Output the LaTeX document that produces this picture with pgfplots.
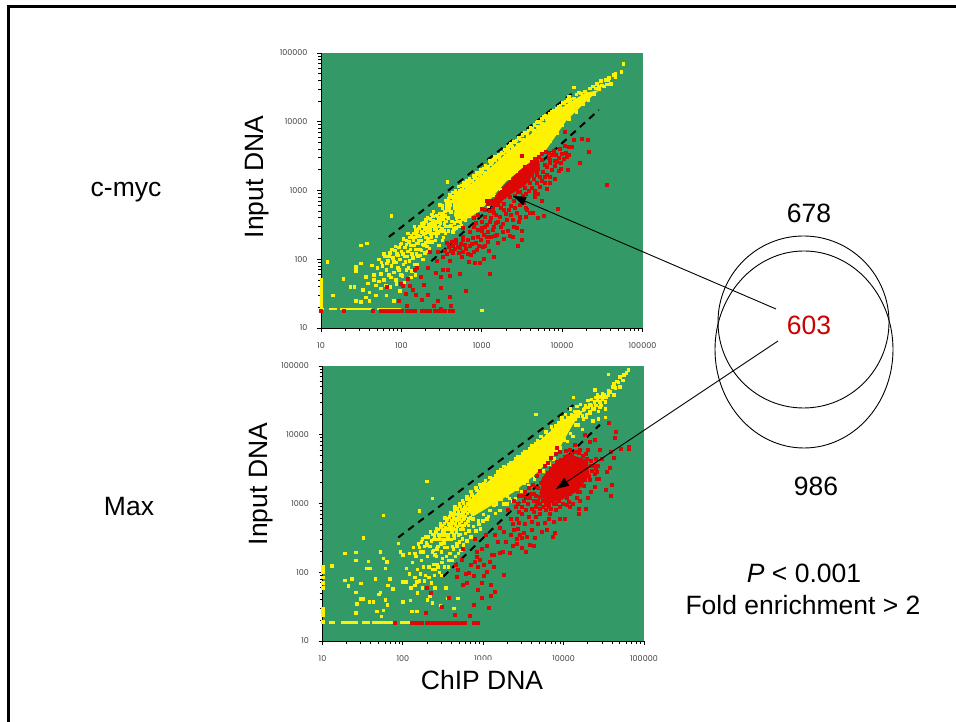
\documentclass[border=0pt]{standalone}
\usepackage{pgfplots}
\pgfplotsset{compat=1.18}
\usepackage{fontspec}
\setmainfont{Liberation Sans}
\newfontfamily\tickfont{Poppins}
\usetikzlibrary{arrows.meta}
\definecolor{bggreen}{RGB}{51,153,102}
\definecolor{ptyellow}{RGB}{255,242,0}
\definecolor{ptred}{RGB}{221,8,6}
\definecolor{txtred}{RGB}{204,0,0}
\newcommand{\bigtxt}{\fontsize{26.5}{30}\selectfont}
\pgfplotsset{
  myyel/.style={only marks, mark=square*, mark size=1.25pt, color=ptyellow, mark options={draw=none,fill=ptyellow}},
  myred/.style={only marks, mark=square*, mark size=1.5pt, color=ptred, mark options={draw=none,fill=ptred}},
  mydash/.style={black, line width=2pt, dash pattern=on 7pt off 5.5pt, no marks},
  myrow/.style={ptyellow, line width=2.5pt, no marks},
}
\begin{document}
\begin{tikzpicture}[x=1pt,y=1pt]
\path[use as bounding box,fill=white] (0,0) rectangle (956,722);
\draw[black,line width=2.6pt] (8.3,0) -- (8.3,715.4) -- (956,715.4);

% ---------- c-myc ----------
\begin{axis}[
    scale only axis, width=321.5pt, height=275pt,
    xmode=log, ymode=log, xmin=10, xmax=100000, ymin=10, ymax=100000,
    axis x line*=bottom, axis y line*=left,
    axis line style={black,line width=0.9pt,-},
    axis background/.style={fill=bggreen},
    xtick={10,100,1000,10000,100000}, ytick={10,100,1000,10000,100000},
    xticklabels={10,100,1000,10000,100000}, yticklabels={10,100,1000,10000,100000},
    minor tick num=0,
    tick align=outside, major tick length=4pt,
    tick style={black,line width=0.8pt},
    ticklabel style={font=\tickfont\fontsize{8}{9}\selectfont, text=black!75},
    xticklabel style={yshift=-7pt}, yticklabel style={xshift=-6pt},
    anchor=north west, at={(321pt,669pt)}]
\addplot[mydash] coordinates {(70,211) (14500,28000)};
\addplot[mydash] coordinates {(236,94) (28600,14800)};
% dense yellow core
\addplot[draw=none, fill=ptyellow] coordinates {(450,420) (480,845) (990,1620) (2030,3500) (4350,7000) (10300,16500) (19000,26000) (29000,29000) (20100,20000) (11200,10300) (6380,3960) (2030,1370) (945,500) (640,380)} -- cycle;
\addplot[myyel] coordinates {
(10,20)(10,22)(10,24)(10,27)(10,30)(10,33)(10,37)(10,40)(10,45)(10,50)
(12,92)(14,30)(19,52)(23,40)(26,40)(27,25)(27,68)(27,78)(31,24)(31,88)(31,160)(37,170)(33,36)(36,28)(36,56)(38,45)(40,25)(40,33)(43,82)(45,50)(45,60)(48,30)(48,42)(50,75)(52,100)(55,62)(55,38)(58,80)(60,50)(62,110)(65,30)(65,70)(68,95)(70,60)(72,125)(72,40)(75,80)(75,430)(78,105)(80,25)(80,65)(82,135)(85,50)(85,90)(88,120)(90,75)(92,150)(95,35)(95,100)(98,60)
(100,130)(100,170)(105,85)(110,110)(110,150)(115,190)(115,70)(120,130)(125,95)(125,210)(130,160)(130,55)(135,120)(140,240)(140,190)(145,85)(150,140)(150,270)(155,170)(160,110)(160,220)(170,300)(170,140)(175,190)(180,250)(185,100)(190,340)(190,160)(200,210)(200,290)(210,130)(210,400)(220,250)(220,180)(230,330)(240,450)
(120,240)(135,210)(145,300)(155,260)(165,190)(185,310)(195,240)(205,360)(215,300)(235,210)(245,370)(255,280)(265,350)(275,250)
(250,500)(260,310)(270,220)(280,420)(290,160)(300,620)(300,380)(310,260)(320,550)(320,190)(330,470)(340,330)(350,720)(350,240)(360,560)(370,1340)(370,410)(380,760)(390,300)(400,870)(400,620)(410,490)(420,360)(430,950)(440,700)(450,280)(460,560)(470,1000)(480,400)(490,830)(500,480)(510,1150)(520,660)(540,350)(560,1200)(580,500)(600,1300)(620,430)(650,1400)(680,520)(700,1500)(740,560)(780,1650)(820,620)(860,1800)(900,680)(950,2000)(1000,750)(1050,2100)(1100,2300)(1150,2150)(1250,2700)(1350,2600)(1450,3100)(1600,3300)(1750,3600)(1900,4000)(2100,4300)(2300,4800)(2600,5000)(2900,5900)(3200,6500)(3600,7000)(4000,8200)(4500,9000)(5000,10200)(5600,11000)(6200,12500)(7000,13000)(7800,14500)(8600,15500)(9500,17000)(10000,19000)(11000,20000)(12000,23000)(13900,32000)(16000,27000)(14000,22000)(13000,17000)(16000,20000)(18000,24000)(19000,28000)
(7000,5200)(8500,6800)(10000,9000)(12000,11000)(15000,14000)(18000,18000)(21000,21000)(25000,25000)
(57400,70000)(54000,53500)(46000,50000)(46000,45000)(40000,36000)(36000,35000)(37000,40000)(30000,39500)(28000,33000)(33000,33000)(1000,18)
(320,600)(345,500)(360,640)(375,690)(395,560)(415,700)(425,810)(445,790)(455,640)(465,900)(475,720)(495,950)(515,860)(530,1000)(545,780)(565,1050)(575,900)(590,1150)(610,1000)(630,1230)(640,1100)(665,1250)(690,1350)(715,1200)(735,1420)(760,1380)(800,1500)(830,1600)(870,1500)(910,1750)(940,1700)(985,1850)(1020,1950)(1080,1800)(1120,2150)(1180,2250)(1220,2000)(1280,2500)(1320,2400)(1400,2850)(1480,2800)(1550,3100)(1650,3000)(1700,3400)(1820,3500)(1950,3700)(2050,3900)(2200,4500)(2400,4400)(2500,5100)(2700,5400)(3000,5600)(3400,6900)(3800,7500)(4200,7900)(4800,9800)(5300,10000)(5900,11800)(6600,12000)(7400,14000)(8200,14200)(9000,16500)(10500,18500)(11500,21000)(12500,21000)(15000,25000)(17000,26000)(20000,26000)(22000,31000)(24000,33000)(26000,31000)
(2100,3800)(2400,4100)(2800,4700)(3300,5500)(3700,6300)(4400,7400)(5000,8400)(5600,9400)(6300,10800)(7000,11500)(7900,12800)(8800,14500)(9800,15800)(11200,17500)(12500,19000)(27000,36000)(29000,30000)(31000,34000)(35000,41000)(38000,44000)(43000,48000)
(330,210)(355,300)(385,260)(410,310)(435,250)(455,340)(475,290)(500,360)(510,300)(530,410)(555,310)(575,390)(600,440)(625,370)(660,460)(690,430)(720,500)(770,520)(840,540)(900,560)(1200,600)(1400,850)(1700,1050)(2200,1500)(2700,1900)(3200,2400)(3800,2800)(4300,3200)(5000,3500)(5700,3800)
(52,48)(56,90)(60,120)(64,42)(66,88)(70,110)(74,55)(76,140)(80,92)(84,155)(86,44)(90,115)(93,70)(96,165)(102,58)(104,120)(106,200)(108,46)(112,92)(114,165)(118,110)(122,75)(124,180)(128,140)(132,225)(134,68)(138,105)(142,160)(146,210)(148,60)(152,120)(154,235)(158,85)(162,175)(164,285)(168,115)(172,215)(176,135)(178,330)(182,165)(186,230)(192,280)(194,125)(198,175)(202,375)(206,155)(208,250)(212,200)(216,320)(222,145)(226,270)(228,390)(232,235)(238,300)(242,180)(246,420)(252,240)(258,340)(262,190)(268,290)(272,440)(278,350)(284,240)(288,400)(294,300)(298,470)(305,340)(312,420)(318,280)(325,390)(335,260)(345,430)(355,360)(365,300)(375,520)(385,400)
};
\addplot[myrow] coordinates {(10,18.8)(11,18.8)};
\addplot[myrow] coordinates {(12.5,18.8)(16,18.8)};
\addplot[myrow] coordinates {(17,18.8)(43,18.8)};
\addplot[myrow] coordinates {(50,18.8)(100,18.8)};
% dense red core
\addplot[draw=none, fill=ptred] coordinates {(1250,620)(1700,1050)(3000,2000)(5000,3100)(5300,2300)(3500,1200)(2200,850)(1500,600)} -- cycle;
\addplot[myred] coordinates {
(35600,1210)(21700,3610)(21000,5530)(17500,5600)(14000,5500)(13000,4270)(16500,2530)(11800,2020)(8900,540)(10900,7080)(9000,3000)(8000,2700)(7000,2500)(12000,4300)(11000,3500)(9500,2100)(9000,1950)(8000,1500)(7000,1300)(6000,1600)(6500,1050)(5000,900)(5500,700)(4500,820)(5970,430)(5000,400)(3500,560)(4000,480)(3000,620)(3000,400)
(3100,3250)(65,40)(98,44)(105,41)(121,52)(127,41)(146,70)(156,76)(140,36)(150,31)(113,32)(93,25)(117,21)(177,26)(190,43)(175,55)(210,31)(210,75)(250,21)(285,25)(305,38)(400,29)(410,21)(310,19)(270,63)(310,55)(330,70)(380,70)(400,94)(400,58)(275,94)(226,130)(285,130)(365,173)(530,62)(695,93)(820,90)(930,88)(630,35)(1240,62)(1070,102)(1410,108)(1210,131)(860,138)(585,130)(530,146)(435,124)(420,183)(480,194)(585,216)(675,194)(775,205)(1000,257)(1060,228)(1200,255)(1200,182)(1600,173)(1370,270)(1840,255)(2100,263)(2720,285)(3140,193)(2770,155)(3130,263)(2450,380)(3000,420)(3600,530)(4300,470)
(585,285)(700,255)(850,340)(1000,350)(1150,315)(1500,340)(1670,420)(2030,380)(2150,530)(2700,470)(3300,660)(4600,880)
(2200,800)(2500,700)(2800,950)(3200,850)(3500,900)(3800,1000)(4200,1100)(4500,1000)(4800,1300)(5200,1150)(5500,1400)(6000,1300)(6500,1700)(7000,1600)(7500,2000)(8000,2300)(8500,2600)(9500,2500)(10500,2900)(12000,3300)(5500,2800)(6000,2400)(5000,2100)(4200,1700)(3700,1400)(4800,1700)(6800,3000)(7500,3300)
(800,400)(900,450)(1100,420)(1300,400)(1500,450)(1700,560)(1900,640)(1250,500)(1100,300)(1400,300)(1800,330)(2300,450)(2600,560)
(1100,520)(1180,640)(1300,700)(1350,550)(1450,620)(1550,800)(1650,700)(1750,950)(1850,800)(1950,1050)(2100,950)(2250,1200)(2400,1050)(2550,1400)(2650,1150)(2850,1600)(3000,1250)(3150,1800)(3300,1350)(3450,2200)(3600,1500)(3800,2300)(4000,1300)(4200,2600)(4400,1500)(4600,2900)(4800,1900)(5100,3100)(5300,1600)(5600,3400)(5800,1900)(6200,3700)(6400,2200)(6800,3600)(7100,2800)(7800,3800)(8300,3300)(9200,4100)(10000,3400)(10800,4500)(11500,3100)
(1000,550)(1150,720)(1400,470)(1600,620)(1900,520)(2300,610)(2600,850)(3000,950)(3400,1100)
(330,110)(350,135)(370,120)(390,150)(410,135)(440,160)(455,140)(470,175)(500,150)(520,125)(545,170)(560,110)(580,190)(610,165)(640,140)(670,120)(700,160)(730,115)(760,170)(790,130)(830,175)(880,210)(920,160)(980,190)(1020,150)(1100,160)(1150,210)(1300,215)(1450,220)(1550,230)(1700,300)(1900,200)(2200,220)(2400,210)(2500,300)(2900,350)(3500,420)(1000,290)(900,270)(800,300)(1250,350)(1600,350)(2000,460)
(10,18)(19,18)(44,18)(55,18)(60,18)(65,18)(70,18)(75,18)(80,18)(85,18)(90,18)(95,18)(100,18)(115,18)(120,18)(130,18)(140,18)(145,18)(180,18)(190,18)(200,18)(225,18)(260,18)(280,18)(300,18)(320,18)(345,18)(400,18)(430,18)
};
\end{axis}

% ---------- Max ----------
\begin{axis}[
    scale only axis, width=321.5pt, height=275pt,
    xmode=log, ymode=log, xmin=10, xmax=100000, ymin=10, ymax=100000,
    axis x line*=bottom, axis y line*=left,
    axis line style={black,line width=0.9pt,-},
    axis background/.style={fill=bggreen},
    xtick={10,100,1000,10000,100000}, ytick={10,100,1000,10000,100000},
    xticklabels={10,100,1000,10000,100000}, yticklabels={10,100,1000,10000,100000},
    minor tick num=0,
    tick align=outside, major tick length=4pt,
    tick style={black,line width=0.8pt},
    ticklabel style={font=\tickfont\fontsize{8}{9}\selectfont, text=black!75},
    xticklabel style={yshift=-7pt}, yticklabel style={xshift=-6pt},
    anchor=north west, at={(322.5pt,356pt)}]
\addplot[mydash] coordinates {(87.5,320) (13800,28000)};
\addplot[mydash] coordinates {(318,86.5) (28300,14000)};
\addplot[draw=none, fill=ptyellow] coordinates {(620,800)(700,1150)(1100,2000)(2360,4200)(5070,8200)(9000,14800)(15000,22000)(17000,22000)(13000,14000)(8180,5400)(4190,2500)(2360,1450)(1100,850)(750,650)} -- cycle;
\addplot[myyel] coordinates {
(10,19)(10,24)(10,27)(10,30)(10,60)(10,70)(10,85)(10,100)(10,110)(10,120)
(13,125)(19,190)(26,195)(26,150)(32,320)(57,680)(160,780)(197,2100)(232,1190)(4500,20000)
(19,77)(21,64)(23,80)(26,51)(30,69)(30,41)(26.5,35)(26,26)(32,41)(38,37)(43,37)(35.5,115)(37,144)(39,115)(45,81)(52,200)(57,160)(63,142)(52,51)(50,48)(69,81)(65,65)(60,115)(47,27)(54,23)(57,28)(60,40)(64,34)(75,58)(87,265)(92,200)(110,115)(100,180)(100,37)(123,39)(100,73)(148,73)(128,27)(148,27)
(110,73)(120,95)(125,60)(130,140)(140,85)(140,190)(150,50)(150,110)(160,230)(160,75)(170,150)(170,280)(175,60)(180,120)(180,200)(190,330)(190,90)(200,170)(200,250)(210,120)(215,45)(220,390)(225,70)(230,200)(240,300)(240,130)(250,60)(260,440)(260,170)(270,240)(280,350)(290,510)(300,200)(310,420)(320,270)(330,620)(340,350)(350,230)(370,500)(390,750)(400,300)(420,600)(440,900)(460,380)(480,700)(500,1000)(520,480)(550,1100)(580,620)(620,1250)(650,480)(700,1500)(740,600)(800,1700)(860,560)(900,1900)(1000,700)(1050,2200)(1150,650)(1200,2400)(1350,950)(1500,2900)(1600,800)(1800,3500)(2000,1000)(2200,4000)(2500,1200)(2700,4900)(3000,1500)(3300,5800)(3600,1800)(4000,7000)(4300,2300)(4700,8200)(5200,9500)(5500,3000)(6000,11000)(6500,3800)(7000,13000)(7500,4500)(8500,15000)(9000,6500)(9500,18000)(10500,20000)(11000,8000)(12000,24000)(13000,9500)(14500,26000)(14000,14000)(16000,28000)(17000,12000)(19000,20000)(21000,28000)(23000,16000)(25000,35000)(27000,22000)(30000,40000)(33000,30000)(38000,42000)(42000,55000)(42000,38000)(46000,60000)(50000,50000)(50000,70000)(54000,62000)(56000,75000)(60000,80000)(64000,88000)(36000,76000)(13200,35000)(24500,45000)(33000,24000)(33000,18000)(27000,17000)
(250,180)(270,120)(290,300)(310,160)(330,230)(360,310)(370,150)(380,420)(410,240)(430,350)(450,480)(470,260)(490,590)(510,360)(540,700)(560,420)(600,900)(640,550)(680,1100)(760,800)(850,1300)(950,1000)(1100,1500)(1300,1100)(1500,1300)(1700,1500)(2000,1300)
(200,40)(230,36)(250,110)(290,33)(300,90)(340,60)(360,42)(430,30)(480,42)
(120,190)(135,230)(145,170)(155,260)(165,200)(175,310)(185,240)(195,270)(205,330)(225,290)(235,360)(245,340)(255,390)(275,420)(285,340)(295,450)(305,480)(315,390)(325,520)(335,450)(345,560)(355,600)(365,440)(375,640)(385,520)(395,680)(405,560)(415,720)(425,640)(435,780)(445,600)(455,820)(465,700)(475,860)(490,760)(510,920)(530,820)(560,1020)(590,880)(610,1150)(640,1000)(670,1200)(720,1350)(760,1250)(830,1550)(880,1450)(930,1750)(980,1600)(1020,1950)(1100,1800)(1250,2250)(1300,2000)(1400,2600)(1550,2600)(1650,3100)(1900,3200)(2050,3700)(2350,3700)(2500,4500)(2900,4700)(3100,5300)(3500,5300)(3800,6300)(4300,6500)(4500,7500)(5000,7900)(5600,8800)(6300,10200)(6800,10500)(7300,11800)(8000,13500)(8800,14000)(9300,16000)(11000,18000)(12500,19500)(13500,22000)(15000,22000)(17500,23000)(18500,27000)(20000,32000)(22000,33000)(24000,30000)(26000,38000)(28000,30000)(31000,36000)
(140,65)(165,95)(185,75)(210,85)(230,110)(245,90)(265,130)(285,100)(305,140)(325,120)(345,170)(365,120)(385,190)(405,150)(425,220)(445,170)(465,240)(485,190)(505,280)(525,210)(545,310)(565,250)(595,370)(625,290)(660,400)(700,330)(750,470)(800,400)(880,500)(920,430)(990,560)(1100,600)(1200,800)(1400,720)(1450,1000)(1650,1150)(1800,1000)(2100,1200)(2300,1100)(2600,1650)(3200,2000)(3500,2100)(4000,2600)(4600,3100)(5200,3600)(6000,4400)(6800,5000)(7300,5600)(8200,7000)(10000,8500)(12000,10500)(15000,14000)(17500,17000)(21000,21000)(24000,24000)(28000,25000)
(215,240)(240,210)(255,300)(265,220)(275,300)(295,260)(305,350)(315,300)(325,400)(345,300)(355,420)(365,350)(375,450)(385,300)(395,470)(405,380)(415,520)(425,430)(435,320)(445,520)(455,420)(465,580)(475,470)(485,350)(495,620)(505,520)(515,420)(525,670)(535,560)(545,430)(555,730)(565,600)(575,480)(585,780)(595,650)(605,520)(625,850)(635,720)(650,600)(665,930)(675,780)(690,620)(705,1000)(715,830)(725,700)(745,1100)(770,950)(790,1200)(820,1050)(845,780)(890,1250)(915,1100)(960,1350)(1000,1200)(1050,1000)(1150,1300)
(1350,2350)(1600,2800)(1750,3000)(2000,3400)(2250,3500)(2600,4200)(3000,4800)(3400,5000)(3900,5800)(4400,6800)(4900,7300)(5400,8200)(6100,9400)(6700,9800)(7500,11000)(8300,12500)(9000,15000)(10000,16000)(12000,18000)
(11000,14000)(12000,15000)(13000,19000)(14000,17000)(15000,19000)(16000,21000)(17000,19000)(18000,24000)(19000,18000)(20000,25000)(21000,22000)(22000,27000)(23000,24000)(25000,27000)(26000,32000)(28000,36000)(29000,27000)(30000,33000)(32000,38000)(34000,36000)(36000,44000)(36000,38000)(40000,50000)(44000,48000)(48000,58000)
};
\addplot[myrow] coordinates {(12,18.7)(14.5,18.7)};
\addplot[myrow] coordinates {(17,18.7)(28,18.7)};
\addplot[myrow] coordinates {(31,18.7)(39,18.7)};
\addplot[myrow] coordinates {(41,18.7)(75,18.7)};
\addplot[myrow] coordinates {(91,18.7)(130,18.7)};
\addplot[draw=none, fill=ptred] coordinates {(5000,1400)(5600,2500)(8200,4000)(13000,5000)(20000,4300)(21000,2600)(15000,1500)(9000,1100)(6000,1000)} -- cycle;
\addplot[myred] coordinates {
(64000,6800)(64000,6200)(52000,6200)(45000,11000)(43000,9200)(36000,14800)(42000,4600)(39000,5700)(37000,3300)(40000,1850)(39000,1300)(33000,1590)(34500,2900)(26000,2900)(24500,1750)(19000,850)(15500,850)(15500,720)(14500,1200)(11000,970)(10300,610)(9000,610)(7800,370)(7400,330)(6100,410)(5300,390)(4400,315)(3800,250)(4200,240)(3400,200)(3000,225)(2600,310)(2850,350)(2200,350)(1800,390)(1600,450)(1900,280)(2150,190)(1750,200)(1800,91)(1350,120)(1270,180)(1600,190)(1100,103)(950,70)(1250,65)(1400,52)(1230,45)(1160,30)(950,42)(850,55)(620,70)(550,65)(680,23)(760,34)(445,24)(370,42)(300,32)(195,26)(200,60)(220,50)(470,87)(480,110)(750,89)(860,120)(785,140)(830,200)(960,220)(1080,350)(790,310)(560,220)(825,170)(1330,180)
(3000,700)(3300,500)(3700,650)(3400,800)(4200,750)(4500,650)(5000,700)(5500,900)(6000,800)(6500,1000)(7000,850)(7500,1000)(2500,900)(2800,750)(3200,1100)(3800,1200)(4200,1400)(4800,1100)(12000,2800)(8300,6530)(13800,7200)(18300,9900)(21300,7900)(24500,8500)(20000,6000)(17000,3500)(22000,3500)(25000,4500)(28000,6000)(30000,4500)(15000,3000)(19000,2600)(21000,2200)(13000,1800)(11000,1500)(16000,1500)(18000,1800)
(2200,600)(2600,600)(2000,800)(2400,1100)(2800,1300)(3300,1500)(3700,1700)(4100,1900)(4600,2500)(5000,3000)(5800,3500)(6400,3900)(7000,4700)(8000,5300)(9000,5600)(10500,5800)(12000,6000)(16000,6100)(19000,5300)(25000,3200)(27000,2300)(22000,1500)(20000,1200)(16000,1100)(13000,1000)(12000,900)(9000,900)(8000,800)(6800,700)(4000,550)(2800,520)(3600,1000)(5000,1000)(2400,420)
(4500,1300)(4700,1700)(5000,1250)(5200,2000)(5500,1100)(5700,2300)(6100,1000)(6300,2800)(6600,900)(6900,3200)(7300,1200)(7600,3500)(7900,1000)(8300,4000)(8700,1100)(9300,4300)(9600,1000)(10200,4800)(10800,1200)(11300,5000)(11800,1400)(12500,5300)(13200,1600)(14000,5600)(14800,1500)(15500,5500)(16300,1900)(17500,5000)(18500,2200)(19500,4500)(20500,2500)(21500,4200)(22500,3000)(23500,3500)(24500,2700)(26500,3600)(26000,2300)
(3500,1200)(3900,1400)(4300,1100)(4600,1000)(3000,900)(2700,1000)(3100,1300)(4000,850)(5000,850)(4500,900)(6000,950)(7000,1100)(8500,1300)(10000,1300)(11500,1050)
(2300,500)(2700,430)(3200,380)(3500,330)(4000,420)(4800,500)(5800,530)(6500,600)(7500,550)(3000,320)(2600,260)(2300,240)(1500,280)(1400,350)(1100,240)(1200,140)(1000,130)(900,150)(700,130)(650,100)(1000,90)(600,95)(540,150)(450,130)
(80,18.7)(130,18.7)(140,18.7)(155,18.7)(170,18.7)(200,18.7)(215,18.7)(230,18.7)(245,18.7)(260,18.7)(275,18.7)(290,18.7)(305,18.7)(320,18.7)(335,18.7)(350,18.7)(370,18.7)(405,18.7)(430,18.7)(465,18.7)(515,18.7)(550,18.7)(590,18.7)(750,18.7)(860,18.7)
};
\end{axis}

% white text box that hides part of the tick labels
\fill[white] (420,62) rectangle (556,27);

% labels
\node[font=\bigtxt] at (126,530) {c-myc};
\node[font=\bigtxt] at (129,215) {Max};
\node[font=\bigtxt,rotate=90] at (257,545) {Input DNA};
\node[font=\bigtxt,rotate=90] at (261,238) {Input DNA};
\node[font=\bigtxt] at (482,42) {ChIP DNA};
\node[font=\bigtxt] at (809,509) {678};
\node[font=\bigtxt,text=txtred] at (809,397) {603};
\node[font=\bigtxt] at (816,236) {986};
\node[font=\bigtxt] at (804,149) {\textit{P} < 0.001};
\node[font=\bigtxt] at (803,117) {Fold enrichment > 2};

% Venn
\draw[black,line width=0.9pt] (803.5,400) ellipse [x radius=85.5, y radius=86];
\draw[black,line width=0.9pt] (804,372.5) ellipse [x radius=89, y radius=98.5];

% arrows
\draw[black,line width=0.9pt,-{Triangle[length=13pt,width=9pt]}] (776,413) -- (513,526);
\draw[black,line width=0.9pt,-{Triangle[length=13pt,width=9pt]}] (778,381) -- (556,233);
\end{tikzpicture}
\end{document}
